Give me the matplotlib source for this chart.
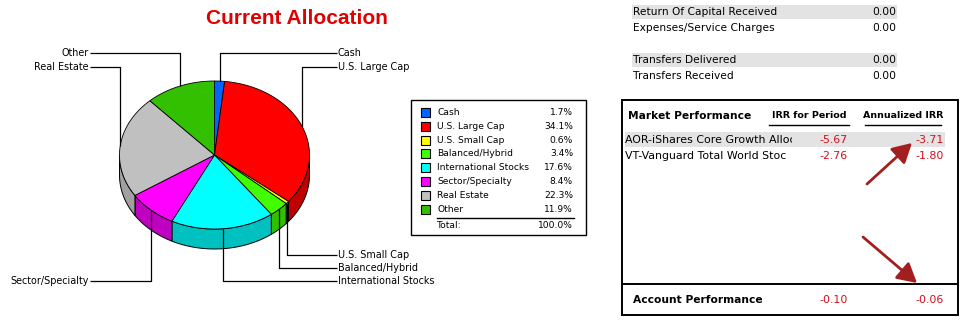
import numpy as np
import matplotlib
matplotlib.use("Agg")
import matplotlib.pyplot as plt
from matplotlib.patches import Polygon, Rectangle, FancyArrowPatch
from matplotlib.transforms import Bbox, TransformedBbox

# ---------------- data ----------------
categories = ["Cash", "U.S. Large Cap", "U.S. Small Cap", "Balanced/Hybrid",
              "International Stocks", "Sector/Specialty", "Real Estate", "Other"]
alloc_pct = [1.7, 34.1, 0.6, 3.4, 17.6, 8.4, 22.3, 11.9]
total_label = "100.0%"

flow_labels = ["Return Of Capital Received", "Expenses/Service Charges", "",
               "Transfers Delivered", "Transfers Received"]
flow_values = [0.00, 0.00, None, 0.00, 0.00]

# holding names as shown (truncated by the column width)
holdings = ["AOR-iShares Core Growth Alloc", "VT-Vanguard Total World Stoc"]
irr_period = [-5.67, -2.76]
irr_annual = [-3.71, -1.80]
account_irr_period = -0.10
account_irr_annual = -0.06

# ---------------- styles ----------------
top_colors = ["#0066FF", "#FF0000", "#FFFF00", "#40FF00",
              "#00FFFF", "#FF00FF", "#C0C0C0", "#33C000"]
side_colors = ["#0050C8", "#C00000", "#C8C800", "#30C000",
               "#00C0C0", "#C000C0", "#A0A0A0", "#289600"]
neg_red = "#D0101A"
arrow_red = "#A31F1F"
band_gray = "#E3E3E3"

fig = plt.figure(figsize=(9.63, 3.22), dpi=100)
ax = fig.add_axes([0, 0, 1, 1])
ax.set_xlim(0, 963)
ax.set_ylim(322, 0)
ax.axis("off")

FONT = "DejaVu Sans"

# ---------------- title ----------------
ax.text(297, 18, "Current Allocation", color="#E00000", fontsize=15,
        fontweight="bold", family="Liberation Sans", ha="center", va="center")

# ---------------- 3D pie ----------------
cx, cy, rx, ry, depth = 214.5, 155.0, 95.0, 74.0, 20.0


def ept(t_deg, dy=0.0):
    t = np.radians(t_deg)
    return cx + rx * np.cos(t), cy - ry * np.sin(t) + dy


vals = np.array(alloc_pct, dtype=float)
frac = vals / vals.sum()
cum = np.concatenate([[0], np.cumsum(frac)])
starts = 90 - 360 * cum[:-1]
ends = 90 - 360 * cum[1:]

# side faces (front half only: angles in [-180, 0])
for i in range(len(vals)):
    lo = max(ends[i], -180.0)
    hi = min(starts[i], 0.0)
    if hi <= lo:
        continue
    ts = np.linspace(hi, lo, 60)
    topx, topy = ept(ts)
    botx, boty = ept(ts[::-1], depth)
    pts = np.column_stack([np.concatenate([topx, botx]),
                           np.concatenate([topy, boty])])
    ax.add_patch(Polygon(pts, closed=True, facecolor=side_colors[i],
                         edgecolor="black", linewidth=0.7, zorder=2))

# top faces
for i in range(len(vals)):
    ts = np.linspace(starts[i], ends[i], max(4, int(abs(starts[i] - ends[i])) + 2))
    ex, ey = ept(ts)
    pts = np.column_stack([np.concatenate([[cx], ex]), np.concatenate([[cy], ey])])
    ax.add_patch(Polygon(pts, closed=True, facecolor=top_colors[i],
                         edgecolor="black", linewidth=0.6, zorder=3))

# leader lines and labels
mids = (starts + ends) / 2
anchors = [ept(m) for m in mids]
groups = {}
for i, (axp, ayp) in enumerate(anchors):
    side = "R" if axp >= cx else "L"
    vert = "T" if ayp < cy else "B"
    groups.setdefault((side, vert), []).append(i)

label_x = {"R": 337, "L": 90}
for (side, vert), idxs in groups.items():
    idxs = sorted(idxs, key=lambda k: abs(anchors[k][0] - cx))
    for j, k in enumerate(idxs):
        ly = 53 + 13.7 * j if vert == "T" else 281 - 13.0 * j
        axp, ayp = anchors[k]
        lx = label_x[side]
        ax.plot([axp, axp, lx], [ayp, ly, ly], color="black", lw=0.9,
                zorder=5, solid_capstyle="butt")
        ax.text(lx + (1 if side == "R" else -1), ly, categories[k], fontsize=6.9,
                family=FONT, ha="left" if side == "R" else "right",
                va="center", zorder=6)

# ---------------- legend box ----------------
ax.add_patch(Rectangle((411, 100), 175, 135, facecolor="white",
                       edgecolor="black", linewidth=1.0, zorder=4))
row0, rstep = 112.5, 13.8
LFS = 6.55
for i, cat in enumerate(categories):
    y = row0 + i * rstep
    ax.add_patch(Rectangle((420.5, y - 4.5), 9, 9, facecolor=top_colors[i],
                           edgecolor="black", linewidth=0.8, zorder=5))
    ax.text(437, y, cat, fontsize=LFS, family=FONT, va="center", ha="left", zorder=6)
    ax.text(573, y, f"{alloc_pct[i]:.1f}%", fontsize=LFS, family=FONT,
            va="center", ha="right", zorder=6)
ax.plot([437, 574], [217.5, 217.5], color="black", lw=1.0, zorder=6)
ax.text(437, 225, "Total:", fontsize=LFS, family=FONT, va="center", ha="left", zorder=6)
ax.text(573, 225, total_label, fontsize=LFS, family=FONT, va="center", ha="right", zorder=6)

# ---------------- cash flow table ----------------
fy0, fstep = 11.5, 16.0
for i, (lab, val) in enumerate(zip(flow_labels, flow_values)):
    y = fy0 + i * fstep
    if not lab:
        continue
    if i in (0, 3):
        ax.add_patch(Rectangle((632, y - 7), 265, 14, facecolor=band_gray,
                               edgecolor="none", zorder=1))
    ax.text(633, y, lab, fontsize=7.7, family=FONT, va="center", ha="left", zorder=3)
    ax.text(896, y, f"{val:.2f}", fontsize=7.7, family=FONT, va="center",
            ha="right", zorder=3)

# ---------------- market performance box ----------------
ax.add_patch(Rectangle((622, 100), 336, 215, facecolor="none",
                       edgecolor="black", linewidth=1.4, zorder=4))
ax.plot([622, 958], [284, 284], color="black", lw=1.4, zorder=4)

ax.text(628, 116, "Market Performance", fontsize=7.7, family=FONT,
        fontweight="bold", va="center", ha="left")
ax.text(809, 115, "IRR for Period", fontsize=6.8, family=FONT,
        fontweight="bold", va="center", ha="center")
ax.text(903, 115, "Annualized IRR", fontsize=6.8, family=FONT,
        fontweight="bold", va="center", ha="center")
ax.plot([769, 849], [125, 125], color="black", lw=1.0)
ax.plot([865, 941], [125, 125], color="black", lw=1.0)

hy0, hstep = 139.5, 16.5
clip = TransformedBbox(Bbox([[624, 0], [792, 322]]), ax.transData)
for i, name in enumerate(holdings):
    y = hy0 + i * hstep
    if i == 0:
        ax.add_patch(Rectangle((625, y - 7.5), 320, 15, facecolor=band_gray,
                               edgecolor="none", zorder=1))
    t = ax.text(625, y, name, fontsize=7.9, family=FONT, va="center",
                ha="left", zorder=3)
    t.set_clip_box(clip)
    t.set_clip_on(True)
    ax.text(848, y, f"{irr_period[i]:.2f}", fontsize=7.9, family=FONT,
            color=neg_red, va="center", ha="right", zorder=3)
    ax.text(944, y, f"{irr_annual[i]:.2f}", fontsize=7.9, family=FONT,
            color=neg_red, va="center", ha="right", zorder=3)

ax.text(633, 300, "Account Performance", fontsize=7.7, family=FONT,
        fontweight="bold", va="center", ha="left")
ax.text(848, 300, f"{account_irr_period:.2f}", fontsize=7.9, family=FONT,
        color=neg_red, va="center", ha="right")
ax.text(944, 300, f"{account_irr_annual:.2f}", fontsize=7.9, family=FONT,
        color=neg_red, va="center", ha="right")

# arrows
for (x0, y0), (x1, y1) in [((867, 184), (912, 143)), ((863, 237), (917, 283))]:
    ax.add_patch(FancyArrowPatch((x0, y0), (x1, y1), arrowstyle="-|>,head_length=9,head_width=5",
                                 color=arrow_red, lw=2.0, mutation_scale=1.3,
                                 shrinkA=0, shrinkB=0, zorder=6))

fig.savefig("out.png", dpi=100)
